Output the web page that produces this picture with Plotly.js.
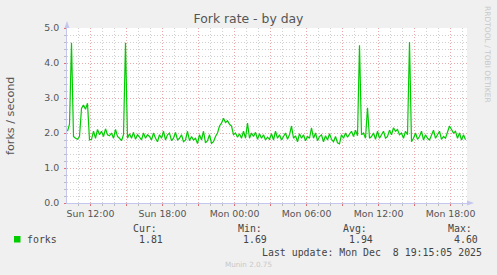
<!DOCTYPE html>
<html>
<head>
<meta charset="utf-8">
<script src="https://cdn.plot.ly/plotly-3.0.1.min.js"></script>
<style>html,body{margin:0;padding:0;background:#f0f0f0;}#chart{width:497px;height:275px;}</style>
</head>
<body>
<div id="chart"></div>
<script>
// ---- data ----
var seriesName = 'forks';
var startTime = '2025-12-07 10:05:00';   // first sample
var stepMinutes = 10;                      // sample interval
var forks = [
  2.05, 2.25, 4.58, 1.90, 1.85, 1.82, 1.90, 2.70, 2.80, 2.68,
  2.85, 1.80, 1.82, 2.05, 1.85, 2.10, 1.95, 2.05, 1.90, 2.12,
  1.95, 1.92, 2.00, 1.85, 2.10, 1.90, 1.85, 1.78, 1.95, 4.58,
  1.85, 1.98, 1.85, 2.02, 1.82, 1.95, 1.88, 1.80, 2.00, 1.85,
  1.95, 1.90, 1.80, 2.00, 1.85, 1.75, 1.95, 1.85, 2.05, 1.80,
  1.95, 2.00, 1.78, 1.85, 2.02, 1.80, 1.85, 1.95, 1.75, 1.80,
  2.05, 1.78, 1.90, 1.80, 1.85, 1.70, 1.95, 1.80, 2.05, 1.72,
  1.78, 1.95, 1.70, 1.75, 1.90, 2.00, 2.20, 2.28, 2.42, 2.30,
  2.35, 2.25, 2.20, 1.95, 2.00, 1.88, 1.98, 1.85, 2.05, 1.85,
  2.28, 1.85, 2.00, 1.90, 2.02, 1.82, 1.98, 1.85, 1.95, 1.80,
  1.88, 1.82, 1.98, 1.80, 2.05, 1.85, 1.95, 1.80, 1.90, 2.00,
  1.82, 1.95, 2.20, 1.85, 1.92, 1.75, 1.98, 1.85, 1.95, 1.78,
  1.90, 1.85, 2.15, 1.85, 2.00, 1.78, 1.90, 1.95, 1.75, 1.92,
  1.80, 1.98, 1.82, 1.75, 1.90, 1.72, 1.69, 1.95, 1.85, 2.00,
  1.88, 1.95, 2.05, 1.90, 2.08, 1.92, 4.51, 1.95, 2.00, 1.85,
  2.72, 1.85, 1.90, 2.00, 1.82, 2.05, 1.85, 1.95, 2.05, 1.85,
  1.90, 2.08, 1.95, 2.15, 2.05, 2.10, 1.95, 2.00, 1.85, 2.05,
  1.95, 4.60, 1.75, 1.85, 2.00, 1.82, 1.90, 2.05, 1.80, 1.95,
  1.85, 1.80, 1.95, 2.08, 1.85, 1.95, 2.05, 1.82, 1.90, 1.85,
  2.00, 2.20, 2.10, 2.00, 2.05, 1.85, 2.00, 1.80, 1.95, 1.81
];
var xTickVals = ['2025-12-07 12:00','2025-12-07 15:00','2025-12-07 18:00','2025-12-07 21:00',
                 '2025-12-08 00:00','2025-12-08 03:00','2025-12-08 06:00','2025-12-08 09:00',
                 '2025-12-08 12:00','2025-12-08 15:00','2025-12-08 18:00'];
var xTickText = ['Sun 12:00','','Sun 18:00','','Mon 00:00','','Mon 06:00','','Mon 12:00','','Mon 18:00'];
var statLabels = ['Cur:','Min:','Avg:','Max:'];
var statValues = ['1.81','1.69','1.94','4.60'];
var lastUpdate = 'Last update: Mon Dec  8 19:15:05 2025';
var titleText = 'Fork rate - by day';
var yTitle = 'forks / second';
var footer = 'Munin 2.0.75';
var watermark = 'RRDTOOL / TOBI OETIKER';

// ---- build ----
function pad(n){return (n<10?'0':'')+n;}
function fmt(ms){var d=new Date(ms);return d.getUTCFullYear()+'-'+pad(d.getUTCMonth()+1)+'-'+pad(d.getUTCDate())+' '+pad(d.getUTCHours())+':'+pad(d.getUTCMinutes())+':'+pad(d.getUTCSeconds());}
var p = startTime.split(/[- :]/).map(Number);
var t0 = Date.UTC(p[0],p[1]-1,p[2],p[3],p[4],p[5]);
var times = forks.map(function(_,i){return fmt(t0 + i*stepMinutes*60000);});

var L=67, T=28, W=400, H=175;
function px(x){return (x-L)/W;}
function py(y){return (T+H-y)/H;}

var mono = 'DejaVu Sans Mono';
var sans = 'DejaVu Sans';
var txt = '#444';
var annotations = [];
function ann(text,x,y,xa,font,size,color,angle){
  annotations.push({text:text,xref:'paper',yref:'paper',x:px(x),y:py(y),xanchor:xa,yanchor:'middle',
    showarrow:false,font:{family:font,size:size,color:color},textangle:angle||0,borderpad:0});
}
var statX = [132,237,342,447];
var valX = [138,242,348,453];
statLabels.forEach(function(s,i){ann(s,statX[i],228,'left',mono,9.9,txt);});
statValues.forEach(function(s,i){ann(s,valX[i],239.5,'left',mono,9.9,txt);});
ann(seriesName,26,239.5,'left',mono,9.9,txt);
ann(lastUpdate,483,252,'right',mono,9.9,txt);
ann(footer,248,264,'center',sans,7.2,'#c8c8c8');
ann(watermark,488,54,'center',sans,7.5,'#c8c8c8',90);
ann(yTitle,10,116,'center',sans,11.2,'#555',-90);

var axisCol = '#c4c6ee';
var shapes = [
  {type:'path',xref:'paper',yref:'paper',path:'M '+px(64.5)+' '+py(28)+' L '+px(67)+' '+py(21)+' L '+px(69.5)+' '+py(28)+' Z',fillcolor:axisCol,line:{width:0}},
  {type:'path',xref:'paper',yref:'paper',path:'M '+px(467)+' '+py(200.5)+' L '+px(474)+' '+py(203)+' L '+px(467)+' '+py(205.5)+' Z',fillcolor:axisCol,line:{width:0}},
  {type:'rect',xref:'paper',yref:'paper',x0:px(14),x1:px(20.5),y0:py(242.5),y1:py(236),fillcolor:'#00cc00',line:{width:0}}
];

var trace = {x:times,y:forks,type:'scatter',mode:'lines',name:seriesName,
  line:{color:'#00cc00',width:1.2},showlegend:false,hoverinfo:'skip'};

var majorGrid = '#eba8a8', minorGrid = '#d0d0d0';
var layout = {
  width:497,height:275,
  margin:{l:L,r:497-L-W,t:T,b:275-T-H,pad:0},
  paper_bgcolor:'#f0f0f0',plot_bgcolor:'#ffffff',
  showlegend:false,
  title:{text:titleText,font:{family:sans,size:12.4,color:'#555'},x:0.5,xanchor:'center',xref:'container',
         y:1-19/275,yref:'container',yanchor:'middle'},
  xaxis:{type:'date',range:['2025-12-07 10:02:30','2025-12-08 19:22:30'],
    tickmode:'array',tickvals:xTickVals,ticktext:xTickText,
    showgrid:true,gridcolor:majorGrid,griddash:'1px,2px',gridwidth:1,
    ticks:'outside',ticklen:2,tickcolor:'#e07070',tickwidth:1,
    showline:true,linecolor:axisCol,linewidth:1,zeroline:false,
    tickfont:{family:sans,size:9.4,color:'#555'},ticklabelstandoff:0,
    minor:{dtick:3600000,tick0:'2025-12-07 00:00',showgrid:true,gridcolor:minorGrid,griddash:'1px,2px',gridwidth:1,ticks:'outside',ticklen:2,tickcolor:'#bbb'},
    fixedrange:true},
  yaxis:{range:[0,5],tickmode:'linear',tick0:0,dtick:1,tickformat:'.1f',
    showgrid:true,gridcolor:majorGrid,griddash:'1px,2px',gridwidth:1,
    ticks:'outside',ticklen:2,tickcolor:'#e07070',
    showline:true,linecolor:axisCol,linewidth:1,zeroline:false,
    tickfont:{family:sans,size:9.4,color:'#555'},ticklabelstandoff:3,
    minor:{dtick:0.2,showgrid:true,gridcolor:minorGrid,griddash:'1px,2px',gridwidth:1,ticks:'outside',ticklen:2,tickcolor:'#bbb'},
    fixedrange:true},
  annotations:annotations,
  shapes:shapes
};
Plotly.newPlot('chart',[trace],layout,{staticPlot:true,displayModeBar:false});
</script>
</body>
</html>
